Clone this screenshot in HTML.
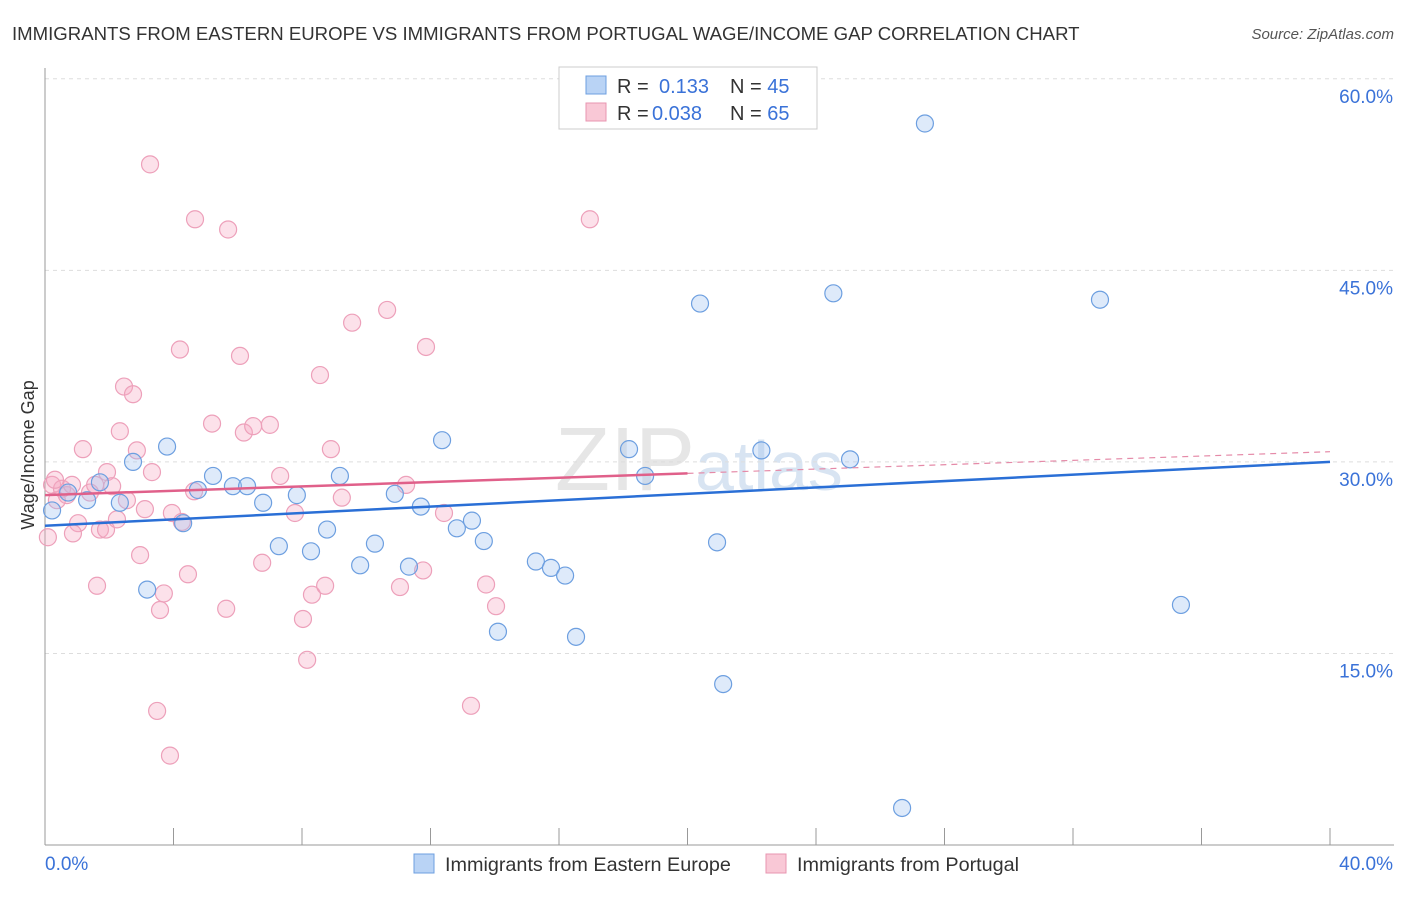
<!DOCTYPE html>
<html><head><meta charset="utf-8"><style>
body{margin:0;background:#fff;font-family:"Liberation Sans",sans-serif;}
svg text{font-family:"Liberation Sans",sans-serif;}
</style></head><body>
<svg width="1406" height="892" viewBox="0 0 1406 892">
<text x="12" y="40" font-size="18.6" fill="#333">IMMIGRANTS FROM EASTERN EUROPE VS IMMIGRANTS FROM PORTUGAL WAGE/INCOME GAP CORRELATION CHART</text>
<text x="1394" y="39" font-size="15" fill="#555" font-style="italic" text-anchor="end">Source: ZipAtlas.com</text>
<text x="555" y="490" font-size="90" fill="#e6e6e6" font-family="Liberation Serif">ZIP<tspan fill="#d8e4f2" font-family="Liberation Sans" font-size="70">atlas</tspan></text>
<g id="grid"></g><g id="axes"></g><g id="pts"></g><g id="trend"></g>
<g>
<rect x="559" y="67" width="258" height="62" fill="#fff" stroke="#ccc"/>
<rect x="586" y="76" width="20" height="18" fill="#b9d3f5" stroke="#6d9fe0"/>
<rect x="586" y="103" width="20" height="18" fill="#f9c8d6" stroke="#e896b0"/>
<text x="617" y="93" font-size="20" fill="#333">R = <tspan x="659" fill="#3a72d8">0.133</tspan><tspan x="730" fill="#333">N = </tspan><tspan fill="#3a72d8">45</tspan></text>
<text x="617" y="120" font-size="20" fill="#333">R = <tspan x="652" fill="#3a72d8">0.038</tspan><tspan x="730" fill="#333">N = </tspan><tspan fill="#3a72d8">65</tspan></text>
</g>
<g>
<rect x="414" y="854" width="20" height="19" fill="#b9d3f5" stroke="#6d9fe0"/>
<text x="445" y="871" font-size="19.8" fill="#333">Immigrants from Eastern Europe</text>
<rect x="766" y="854" width="20" height="19" fill="#f9c8d6" stroke="#e896b0"/>
<text x="797" y="871" font-size="19.8" fill="#333">Immigrants from Portugal</text>
</g>
<text transform="translate(34,455) rotate(-90)" font-size="18" fill="#333" text-anchor="middle">Wage/Income Gap</text>
</svg>
<script>
const yTicks=[15,30,45,60];
const yTickLabels=["15.0%","30.0%","45.0%","60.0%"];
const xTickCount=10;
const blueX=[0.22,0.72,1.31,1.71,2.33,2.74,3.18,3.80,4.30,4.76,5.23,5.85,6.29,6.79,7.28,7.84,8.28,8.78,9.18,9.81,10.27,10.89,11.33,11.70,12.36,12.82,13.29,13.66,14.10,15.28,15.75,16.19,16.53,18.18,18.68,20.39,20.92,21.11,22.30,24.54,25.06,26.68,27.39,32.84,35.36];
const blueY=[26.2,27.6,27.0,28.4,26.8,30.0,20.0,31.2,25.2,27.8,28.9,28.1,28.1,26.8,23.4,27.4,23.0,24.7,28.9,21.9,23.6,27.5,21.8,26.5,31.7,24.8,25.4,23.8,16.7,22.2,21.7,21.1,16.3,31.0,28.9,42.4,23.7,12.6,30.9,43.2,30.2,2.9,56.5,42.7,18.8];
const pinkX=[0.09,0.22,0.37,0.53,0.68,0.84,1.03,0.87,1.18,1.40,1.62,1.71,1.90,1.93,2.09,2.24,2.33,2.46,2.55,2.74,2.86,2.96,3.11,3.33,3.27,3.49,3.58,3.70,3.89,3.95,4.20,4.26,4.45,4.64,4.67,5.20,5.64,5.70,6.07,6.19,6.48,6.76,7.00,7.32,7.78,8.03,8.16,8.31,8.56,8.72,8.90,9.24,9.56,10.65,11.05,11.24,11.77,11.86,12.42,13.26,13.73,14.04,16.96,0.31,1.56];
const pinkY=[24.1,28.2,27.0,27.9,27.4,28.2,25.2,24.4,31.0,27.6,20.3,24.7,24.7,29.2,28.1,25.5,32.4,35.9,27.0,35.3,30.9,22.7,26.3,29.2,53.3,10.5,18.4,19.7,7.0,26.0,38.8,25.3,21.2,27.7,49.0,33.0,18.5,48.2,38.3,32.3,32.8,22.1,32.9,28.9,26.0,17.7,14.5,19.6,36.8,20.3,31.0,27.2,40.9,41.9,20.2,28.2,21.5,39.0,26.0,10.9,20.4,18.7,49.0,28.6,28.2];
const X=v=>45+v*32.125, Y=v=>845-v*12.77;
const NS="http://www.w3.org/2000/svg";
function mk(tag,attrs,parent){const e=document.createElementNS(NS,tag);for(const k in attrs)e.setAttribute(k,attrs[k]);document.getElementById(parent).appendChild(e);return e;}
yTicks.forEach((t,i)=>{
 const l=mk('line',{x1:45,x2:1394,y1:Y(t),y2:Y(t),stroke:'#ddd','stroke-dasharray':'4,4'},'grid');
 
 
 const tx=mk('text',{x:1393,y:Y(t)+24,'font-size':19,fill:'#3a72d8','text-anchor':'end'},'grid');
 tx.textContent=yTickLabels[i];
 
 
});
const ya=mk('line',{x1:45,x2:45,y1:68,y2:845,stroke:'#999'},'axes');


const xa=mk('line',{x1:45,x2:1394,y1:845,y2:845,stroke:'#999'},'axes');


for(let i=1;i<=xTickCount;i++){const t=mk('line',{x1:X(i*4),x2:X(i*4),y1:828,y2:845,stroke:'#999'},'axes');
 
 }
const xMinLbl=mk('text',{x:45,y:870,'font-size':19,fill:'#3a72d8'},'axes');xMinLbl.textContent='0.0%';


const xMaxLbl=mk('text',{x:1393,y:870,'font-size':19,fill:'#3a72d8','text-anchor':'end'},'axes');xMaxLbl.textContent='40.0%';


pinkX.forEach((v,i)=>{const c=mk('circle',{cx:X(v),cy:Y(pinkY[i]),r:8.5,fill:'rgba(245,170,195,0.35)',stroke:'#eda0ba','stroke-width':1.2},'pts');
 
 });
blueX.forEach((v,i)=>{const c=mk('circle',{cx:X(v),cy:Y(blueY[i]),r:8.5,fill:'rgba(160,195,240,0.35)',stroke:'#6d9fe0','stroke-width':1.2},'pts');
 
 });
const bl=mk('line',{x1:X(0),y1:Y(25.0),x2:X(40),y2:Y(30.0),stroke:'#2a6fd6','stroke-width':2.5},'trend');


const pl=mk('line',{x1:X(0),y1:Y(27.4),x2:X(20),y2:Y(29.1),stroke:'#e0608a','stroke-width':2.5},'trend');


const pd=mk('line',{x1:X(20),y1:Y(29.1),x2:X(40),y2:Y(30.8),stroke:'#e58aa8','stroke-width':1.2,'stroke-dasharray':'6,5'},'trend');


</script>
</body></html>
